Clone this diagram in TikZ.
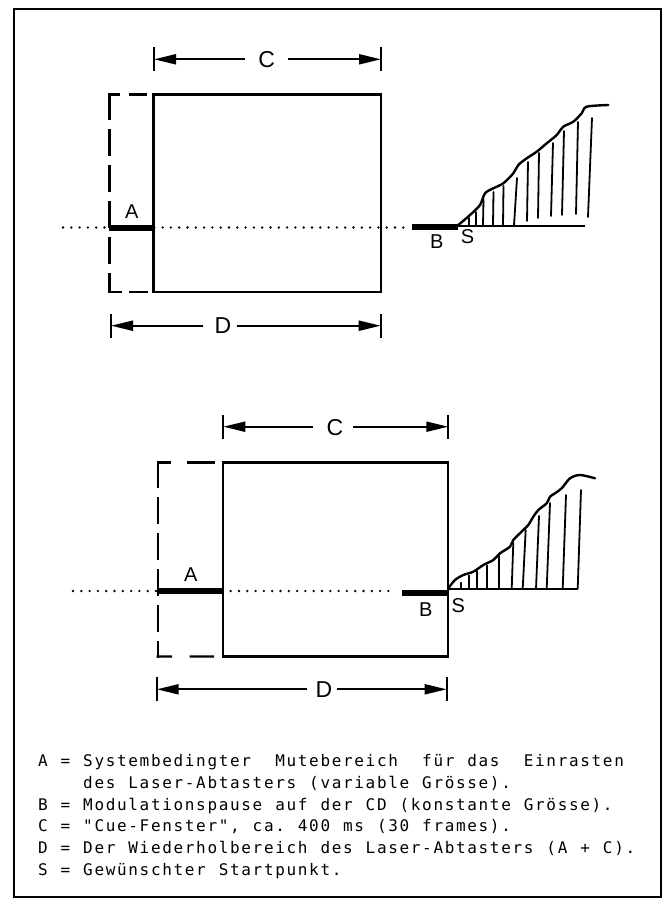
\documentclass[tikz,border=0pt]{standalone}
\usepackage{fontspec}
\setmainfont{Liberation Sans}
\newfontfamily\legendfont[Ligatures=TeXOff]{DejaVu Sans Mono}
\newcommand\legendsetup{\legendfont\fontsize{16}{16}\selectfont}
\makeatletter
\newcommand\monoline[1]{\mono@step#1\@nil}
\def\mono@step#1{\ifx#1\@nil\else\makebox[11.3pt][c]{#1}\expandafter\mono@step\fi}
\makeatother
\usetikzlibrary{arrows.meta}
\begin{document}
\begin{tikzpicture}[x=1pt,y=-1pt,
  frame/.style={line width=1.5pt},
  boxline/.style={draw, line width=2.4pt, inner sep=0pt, outer sep=0pt},
  dashline/.style={line width=2.4pt, line cap=rect},
  dotline/.style={line width=2.6pt, line cap=round, dash pattern=on 0pt off 8.3pt},
  bar/.style={line width=6pt},
  hill/.style={line width=2.4pt, line join=round, line cap=round},
  baseln/.style={line width=2pt},
  hatch/.style={line width=1.8pt, line cap=round},
  dimline/.style={line width=2pt, -{Triangle[length=22pt,width=10pt]}},
  tick/.style={line width=2pt},
  lab/.style={font=\fontsize{20}{20}\selectfont, inner sep=0pt},
  biglab/.style={font=\fontsize{23}{23}\selectfont, inner sep=0pt},
  legend/.style={font=\legendsetup, inner sep=0pt, anchor=base west}
]
\useasboundingbox (0,0) rectangle (669,903);
\coordinate (ftl) at (14,9);
\coordinate (fbr) at (661,897);
\draw[frame] (ftl) rectangle (fbr);

% ---------------- top diagram ----------------
\node[boxline, minimum width=227.4pt, minimum height=197.4pt] (box1) at (267,193) {};
\coordinate (d1tl) at (109.3,94.3);
\coordinate (d1bl) at (109.3,291.7);
\draw[dashline, dash pattern=on 9pt off 12pt on 15pt off 30pt] (d1tl) -- (box1.north west);
\draw[dashline, dash pattern=on 24pt off 12pt] (d1tl) -- (d1bl);
\draw[dashline, dash pattern=on 11pt off 10pt on 16pt off 30pt] (d1bl) -- (box1.south west);

\coordinate (dot1s) at (63,227.5);
\coordinate (dot1e) at (407,227.5);
\draw[dotline] (dot1s) -- (dot1e);
\coordinate (a1s) at (109.3,227.5);
\coordinate (a1e) at (153.3,227.5);
\draw[bar] (a1s) -- (a1e);
\node[lab] (A1) at (131.7,211.7) {A};

\coordinate (b1s) at (412,227);
\coordinate (b1e) at (458.3,227);
\draw[bar] (b1s) -- (b1e);
\node[lab] (B1) at (436.7,242) {B};
\node[lab] (S1) at (467.5,237) {S};

\coordinate (h1e) at (585,226);
\draw[baseln] (b1e |- h1e) -- (h1e);
\draw[hill] plot[smooth, tension=0.5] coordinates {(458.3,225) (470,215) (480,205) (485,193.3) (493.3,188.3) (503.3,183.3) (513.3,173.3) (518.3,165) (526.7,158.3) (536.7,151.7) (546.7,143.3) (556.7,135) (563.3,126.7) (573.3,121.7) (581.7,113.3) (586.7,106.7) (608.3,105)};
\foreach \xa/\ya/\xb/\yb in {469/225.5/469/218, 476/225.5/476/212, 483/225.5/483.5/199, 493/225/493.5/192, 503/225.5/503.5/186, 514/225.5/517/178, 527/221/528/162, 538/218/539/153, 551/216/553/143, 562/215/564/131, 576/214/578/122, 588/217/592/118}
  \draw[hatch] (\xa,\ya) -- (\xb,\yb);

% dimension C (top)
\coordinate (c1l) at (154,59.3);
\coordinate (c1r) at (381,59.3);
\node[biglab] (C1) at (266.7,59.3) {C};
\coordinate (c1a) at (245,59.3);
\coordinate (c1b) at (288,59.3);
\draw[tick] ([yshift=-12pt]c1l) -- ([yshift=12pt]c1l);
\draw[tick] ([yshift=-12pt]c1r) -- ([yshift=12pt]c1r);
\draw[dimline] (c1a) -- (c1l);
\draw[dimline] (c1b) -- (c1r);

% dimension D (top)
\coordinate (e1l) at (111,325.7);
\coordinate (e1r) at (380.7,325.7);
\node[biglab] (D1) at (223,325.8) {D};
\coordinate (e1a) at (203.3,325.7);
\coordinate (e1b) at (236.7,325.7);
\draw[tick] ([yshift=-12pt]e1l) -- ([yshift=12pt]e1l);
\draw[tick] ([yshift=-12pt]e1r) -- ([yshift=12pt]e1r);
\draw[dimline] (e1a) -- (e1l);
\draw[dimline] (e1b) -- (e1r);

% ---------------- bottom diagram ----------------
\node[boxline, minimum width=224.5pt, minimum height=194.2pt] (box2) at (335.5,559.4) {};
\coordinate (d2tl) at (157.8,462.3);
\coordinate (d2bl) at (157.8,656.5);
\draw[dashline, dash pattern=on 12pt off 18pt on 26pt off 30pt] (d2tl) -- (box2.north west);
\draw[dashline, dash pattern=on 24pt off 12pt] (d2tl) -- (d2bl);
\draw[dashline, dash pattern=on 13pt off 20pt on 22pt off 30pt] (d2bl) -- (box2.south west);

\coordinate (dot2s) at (73,591);
\coordinate (dot2e) at (396,591);
\draw[dotline] (dot2s) -- (dot2e);
\coordinate (a2s) at (158,590.5);
\coordinate (a2e) at (223.3,590.5);
\draw[bar] (a2s) -- (a2e);
\node[lab] (A2) at (190.8,574.2) {A};

\coordinate (b2s) at (401.7,592.5);
\coordinate (b2e) at (448.3,592.5);
\draw[bar] (b2s) -- (b2e);
\node[lab] (B2) at (425.8,610) {B};
\node[lab] (S2) at (458.3,606) {S};

\coordinate (h2e) at (576.7,589.3);
\draw[baseln] (b2e |- h2e) -- (h2e);
\draw[hill] plot[smooth, tension=0.5] coordinates {(448.3,588.3) (455,580) (463.3,575) (473.3,571.7) (483.3,565) (493.3,560) (500,553.3) (510,546.7) (513.3,540) (523.3,530) (528.3,525) (533.3,516.7) (538.3,510) (546.7,503.3) (550,496.7) (555,493.3) (561.7,488.3) (570,478.3) (580,475) (595,478.3)};
\foreach \xa/\ya/\xb/\yb in {460.7/589/460.7/582.7, 469.3/589/469.3/575.5, 476.7/589/476.7/571, 487.3/589/487.3/565.5, 499.3/589/499.3/556, 511.7/589/513.3/543, 522.7/589/525.7/530, 536/589/539/516, 546.7/589/550/503, 562.7/589/566/495, 577.7/589/581/490}
  \draw[hatch] (\xa,\ya) -- (\xb,\yb);

% dimension C (bottom)
\coordinate (c2l) at (223.3,426.7);
\coordinate (c2r) at (448.3,426.7);
\node[biglab] (C2) at (335,427.3) {C};
\coordinate (c2a) at (313,426.7);
\coordinate (c2b) at (353,426.7);
\draw[tick] ([yshift=-12pt]c2l) -- ([yshift=12pt]c2l);
\draw[tick] ([yshift=-12pt]c2r) -- ([yshift=12pt]c2r);
\draw[dimline] (c2a) -- (c2l);
\draw[dimline] (c2b) -- (c2r);

% dimension D (bottom)
\coordinate (e2l) at (156.7,689.3);
\coordinate (e2r) at (446.7,689.3);
\node[biglab] (D2) at (324,690) {D};
\coordinate (e2a) at (306.7,689.3);
\coordinate (e2b) at (336.7,689.3);
\draw[tick] ([yshift=-12pt]e2l) -- ([yshift=12pt]e2l);
\draw[tick] ([yshift=-12pt]e2r) -- ([yshift=12pt]e2r);
\draw[dimline] (e2a) -- (e2l);
\draw[dimline] (e2b) -- (e2r);

% ---------------- legend ----------------
\node[legend] (L1) at (37,766.7) {\monoline{A~=~Systembedingter~~Mutebereich~~für~das~~Einrasten}};
\node[legend] (L2) at (82.2,788.3) {\monoline{des~Laser-Abtasters~(variable~Grösse).}};
\node[legend] (L3) at (37,810) {\monoline{B~=~Modulationspause~auf~der~CD~(konstante~Grösse).}};
\node[legend] (L4) at (37,831.7) {\monoline{C~=~"Cue-Fenster",~ca.~400~ms~(30~frames).}};
\node[legend] (L5) at (37,853.3) {\monoline{D~=~Der~Wiederholbereich~des~Laser-Abtasters~(A~+~C).}};
\node[legend] (L6) at (37,875) {\monoline{S~=~Gewünschter~Startpunkt.}};
\end{tikzpicture}
\end{document}
